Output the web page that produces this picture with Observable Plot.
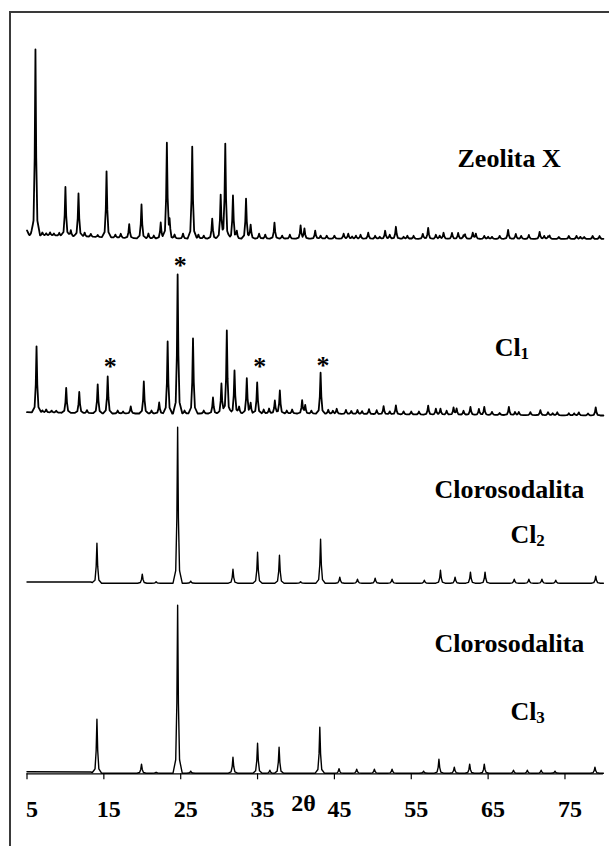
<!DOCTYPE html>
<html><head><meta charset="utf-8">
<script src="https://cdn.jsdelivr.net/npm/d3@7"></script>
<script src="https://cdn.jsdelivr.net/npm/@observablehq/plot@0.6"></script>
<style>
html,body{margin:0;padding:0;background:#fff;overflow:hidden;width:609px;height:846px;}
#wrap{position:relative;width:609px;height:846px;overflow:hidden;}
#chart{position:absolute;left:0;top:0;}
#frame{position:absolute;left:9px;top:11px;width:700px;height:900px;border-top:2px solid #3a3a3a;border-left:2px solid #3a3a3a;pointer-events:none;}
#chart svg text{font-family:"Liberation Serif","Times New Roman",serif !important;font-weight:bold !important;}
</style></head><body><div id="wrap"><div id="chart"></div><div id="frame"></div></div>
<script>
// ---------- data ----------
const tickValues = [5, 15, 25, 35, 45, 55, 65, 75];
const axisTitle = "2θ";
const seriesNames = ["Zeolita X", "Cl1", "Cl2", "Cl3"];
const offsets = [535.3, 358.3, 190.6, 0.6];

// Zeolita X
const zeoPos = [6.1, 10.0, 10.7, 11.7, 15.35, 18.3, 19.9, 22.4, 23.2, 23.55, 25.3, 26.5, 27.3, 29.1, 30.2, 30.8, 31.8, 32.3, 33.5, 34.1, 35.2, 37.2, 40.6, 41.1, 42.5, 44.0, 46.2, 46.8, 49.4, 51.6, 53.0, 56.5, 57.2, 59.2, 60.3, 61.1, 63.0, 63.4, 67.6, 68.6, 70.3, 71.7, 73.0, 75.5, 78.6];
const zeoHt  = [186, 49, 6, 43, 66, 14, 34, 16, 95, 15, 5, 92, 4, 20, 44, 95, 43, 7, 40, 14, 5, 16, 13, 10, 8, 3, 5, 5, 6, 8, 12, 5, 11, 6, 6, 6, 6, 5, 9, 5, 4, 7, 3, 3, 3];
const zeoMinorPos = [5.5, 7.0, 7.5, 8.0, 8.5, 9.2, 12.5, 13.3, 14.2, 16.5, 17.2, 20.8, 21.5, 24.2, 28.0, 36.0, 38.2, 39.2, 43.2, 45.0, 47.3, 47.8, 48.4, 50.3, 50.9, 52.2, 54.0, 54.5, 55.3, 58.2, 58.7, 61.8, 62.0, 64.5, 65.0, 65.5, 66.5, 69.3, 72.3, 72.8, 74.2, 76.5, 77.0, 77.5, 79.5];
const zeoMinorHt  = [2, 3, 2, 3, 2, 3, 4, 3, 2, 3, 4, 5, 3, 4, 3, 4, 3, 4, 3, 3, 2, 3, 4, 3, 2, 4, 2, 3, 3, 4, 3, 3, 4, 3, 2, 2, 3, 3, 3, 2, 2, 3, 2, 2, 3];
const zeoBaseX = [5, 5.3, 8, 12, 16, 20, 80];
const zeoBaseY = [8, 3, 3, 2, 1, 0, -0.5];

// Cl1
const cl1Pos = [6.24, 10.1, 11.8, 14.2, 15.5, 18.5, 20.2, 22.2, 23.3, 24.6, 26.6, 29.2, 30.3, 31.0, 32.0, 32.6, 33.6, 34.1, 34.95, 36.5, 37.25, 37.9, 39.5, 40.8, 41.2, 43.2, 44.2, 45.3, 46.5, 48.0, 49.5, 50.5, 51.4, 53.0, 55.0, 57.2, 58.2, 58.8, 60.5, 60.9, 62.7, 63.8, 64.5, 67.7, 69.0, 71.8, 74.0, 79.0];
const cl1Ht  = [66, 25, 21, 29, 37, 7, 32, 11, 72, 139, 75, 16, 30, 83, 43, 7, 35, 10, 31, 5, 13, 23, 4, 13, 8, 41, 4, 5, 4, 4, 5, 4, 8, 9, 3, 9, 6, 6, 7, 6, 8, 6, 8, 8, 3, 5, 3, 8];
const cl1MinorPos = [7.0, 7.5, 8.2, 8.8, 12.8, 16.8, 17.5, 21.2, 25.5, 28.0, 35.8, 38.8, 42.0, 44.8, 47.2, 48.6, 52.2, 54.0, 56.0, 59.6, 61.8, 65.5, 66.5, 68.5, 70.5, 72.8, 73.4, 75.5, 76.2, 76.8, 78.0];
const cl1MinorHt  = [2, 3, 2, 2, 3, 3, 2, 3, 3, 3, 4, 3, 3, 3, 3, 3, 3, 3, 3, 4, 4, 3, 2, 3, 3, 3, 2, 2, 2, 3, 2];
const cl1BaseX = [5, 16, 40, 55, 80];
const cl1BaseY = [3.3, 2, 2, 1, 0];

// Cl2 (Clorosodalita)
const cl2Pos = [14.1, 20.0, 21.8, 24.6, 26.3, 31.8, 35.0, 37.85, 40.6, 43.2, 45.7, 48.0, 50.3, 52.5, 56.7, 58.8, 60.7, 62.7, 64.6, 68.4, 70.3, 72.0, 73.8, 79.0];
const cl2Ht  = [40, 9, 1.5, 156, 2, 14, 31, 28, 1.5, 44, 6, 4, 5, 4, 3, 13, 6, 11, 11, 4, 4, 4, 3, 7];
const cl2BaseX = [5, 13.3, 13.8, 80];
const cl2BaseY = [1.2, 1.2, 0, 0];

// Cl3 (Clorosodalita)
const cl3Pos = [14.1, 19.9, 21.8, 24.6, 26.3, 31.8, 35.0, 36.6, 37.8, 43.1, 45.6, 47.9, 50.2, 52.5, 56.6, 58.6, 60.6, 62.6, 64.5, 68.3, 70.1, 71.9, 73.7, 78.9];
const cl3Ht  = [54, 9, 1, 168, 2, 16, 30, 3, 26, 46, 4.5, 4, 4, 4, 2, 14, 6, 9, 9, 3, 3, 3, 2, 6];
const cl3BaseX = [5, 13.3, 13.8, 80];
const cl3BaseY = [1.4, 1.2, 0, 0];

// text labels
const labelTexts = ["Zeolita X", "Cl", "Clorosodalita", "Cl", "Clorosodalita", "Cl"];
const labelTheta = [61.02, 65.87, 58.03, 67.9, 58.03, 67.9];
const labelV     = [606.6, 418.3, 276, 231, 121.6, 54];
const subTexts = ["1", "2", "3"];
const subTheta = [69.22, 71.27, 71.27];
const subV     = [415.0, 228.0, 51.0];

// asterisks on Cl1 peaks
const starTheta = [15.5, 24.6, 34.95, 43.2];
const starV     = [411.6, 512.6, 411.6, 413.3];

// ---------- build ----------
const profD = [-0.6, -0.25, -0.1, 0, 0.1, 0.25, 0.6];
const profF = [0, 0.08, 0.42, 1, 0.42, 0.08, 0];

function interp(xs, ys, x) {
  if (x <= xs[0]) return ys[0];
  for (let i = 1; i < xs.length; i++) {
    if (x <= xs[i]) { const t = (x - xs[i-1]) / (xs[i] - xs[i-1]); return ys[i-1] + t * (ys[i] - ys[i-1]); }
  }
  return ys[ys.length - 1];
}
function buildTrace(name, pos, ht, baseX, baseY, offset) {
  const set = new Set([5, 80, ...baseX]);
  pos.forEach(p => profD.forEach(d => { const x = +(p + d).toFixed(3); if (x >= 5 && x <= 80) set.add(x); }));
  const xs = [...set].sort((a, b) => a - b);
  return xs.map(x => {
    let v = offset + interp(baseX, baseY, x);
    pos.forEach((p, i) => { const d = x - p; if (d > profD[0] && d < profD[profD.length-1]) v += ht[i] * interp(profD, profF, d); });
    return {series: name, theta: x, v};
  });
}
const zeo = buildTrace(seriesNames[0], [...zeoPos, ...zeoMinorPos], [...zeoHt, ...zeoMinorHt], zeoBaseX, zeoBaseY, offsets[0]);
const cl1 = buildTrace(seriesNames[1], [...cl1Pos, ...cl1MinorPos], [...cl1Ht, ...cl1MinorHt], cl1BaseX, cl1BaseY, offsets[1]);
const cl2 = buildTrace(seriesNames[2], cl2Pos, cl2Ht, cl2BaseX, cl2BaseY, offsets[2]);
const cl3 = buildTrace(seriesNames[3], cl3Pos, cl3Ht, cl3BaseX, cl3BaseY, offsets[3]);

const labels = labelTexts.map((t, i) => ({t, x: labelTheta[i], y: labelV[i]}));
const subs = subTexts.map((t, i) => ({t, x: subTheta[i], y: subV[i]}));
const stars = starTheta.map((x, i) => ({x, y: starV[i]}));

const serif = "'Liberation Serif', 'Times New Roman', serif";
const chart = Plot.plot({
  width: 609, height: 846,
  marginLeft: 26.5, marginRight: 6.1, marginTop: 0, marginBottom: 72.7,
  x: {domain: [5, 80], axis: null, label: null},
  y: {domain: [0, 773.3], axis: null, label: null},
  style: "font-family: 'Liberation Serif', 'Times New Roman', serif; font-weight: bold; background: transparent; color: black;",
  marks: [
    Plot.ruleY([0], {stroke: "black", strokeWidth: 1.2}),
    Plot.ruleX(tickValues, {x: d => d, y1: 0, y2: 0, insetBottom: -6, stroke: "black", strokeWidth: 1.2}),
    Plot.text(tickValues, {x: d => d, text: d => String(d), frameAnchor: "bottom", lineAnchor: "bottom", dy: 42.7, dx: 5, fontSize: 24, fontFamily: serif, fontWeight: "bold", fill: "black"}),
    Plot.text([axisTitle], {frameAnchor: "bottom", text: d => d, lineAnchor: "bottom", dx: -11.7, dy: 36.7, fontSize: 24, fontFamily: serif, fontWeight: "bold", fill: "black"}),
    Plot.line(zeo, {x: "theta", y: "v", stroke: "black", strokeWidth: 1.8, strokeLinejoin: "round", curve: "linear"}),
    Plot.line(cl1, {x: "theta", y: "v", stroke: "black", strokeWidth: 1.8, strokeLinejoin: "round", curve: "linear"}),
    Plot.line(cl2, {x: "theta", y: "v", stroke: "black", strokeWidth: 1.4, strokeLinejoin: "round", curve: "linear"}),
    Plot.line(cl3, {x: "theta", y: "v", stroke: "black", strokeWidth: 1.4, strokeLinejoin: "round", curve: "linear"}),
    Plot.text(labels, {x: "x", y: "y", text: "t", textAnchor: "start", lineAnchor: "bottom", fontSize: 26, fontFamily: serif, fontWeight: "bold", fill: "black"}),
    Plot.text(subs, {x: "x", y: "y", text: "t", textAnchor: "start", lineAnchor: "bottom", fontSize: 17, fontFamily: serif, fontWeight: "bold", fill: "black"}),
    Plot.text(stars, {x: "x", y: "y", text: () => "*", lineAnchor: "bottom", dy: 13, dx: 2.5, fontSize: 26, fontFamily: serif, fontWeight: "bold", fill: "black"})
  ]
});
document.getElementById("chart").appendChild(chart);
</script></body></html>
